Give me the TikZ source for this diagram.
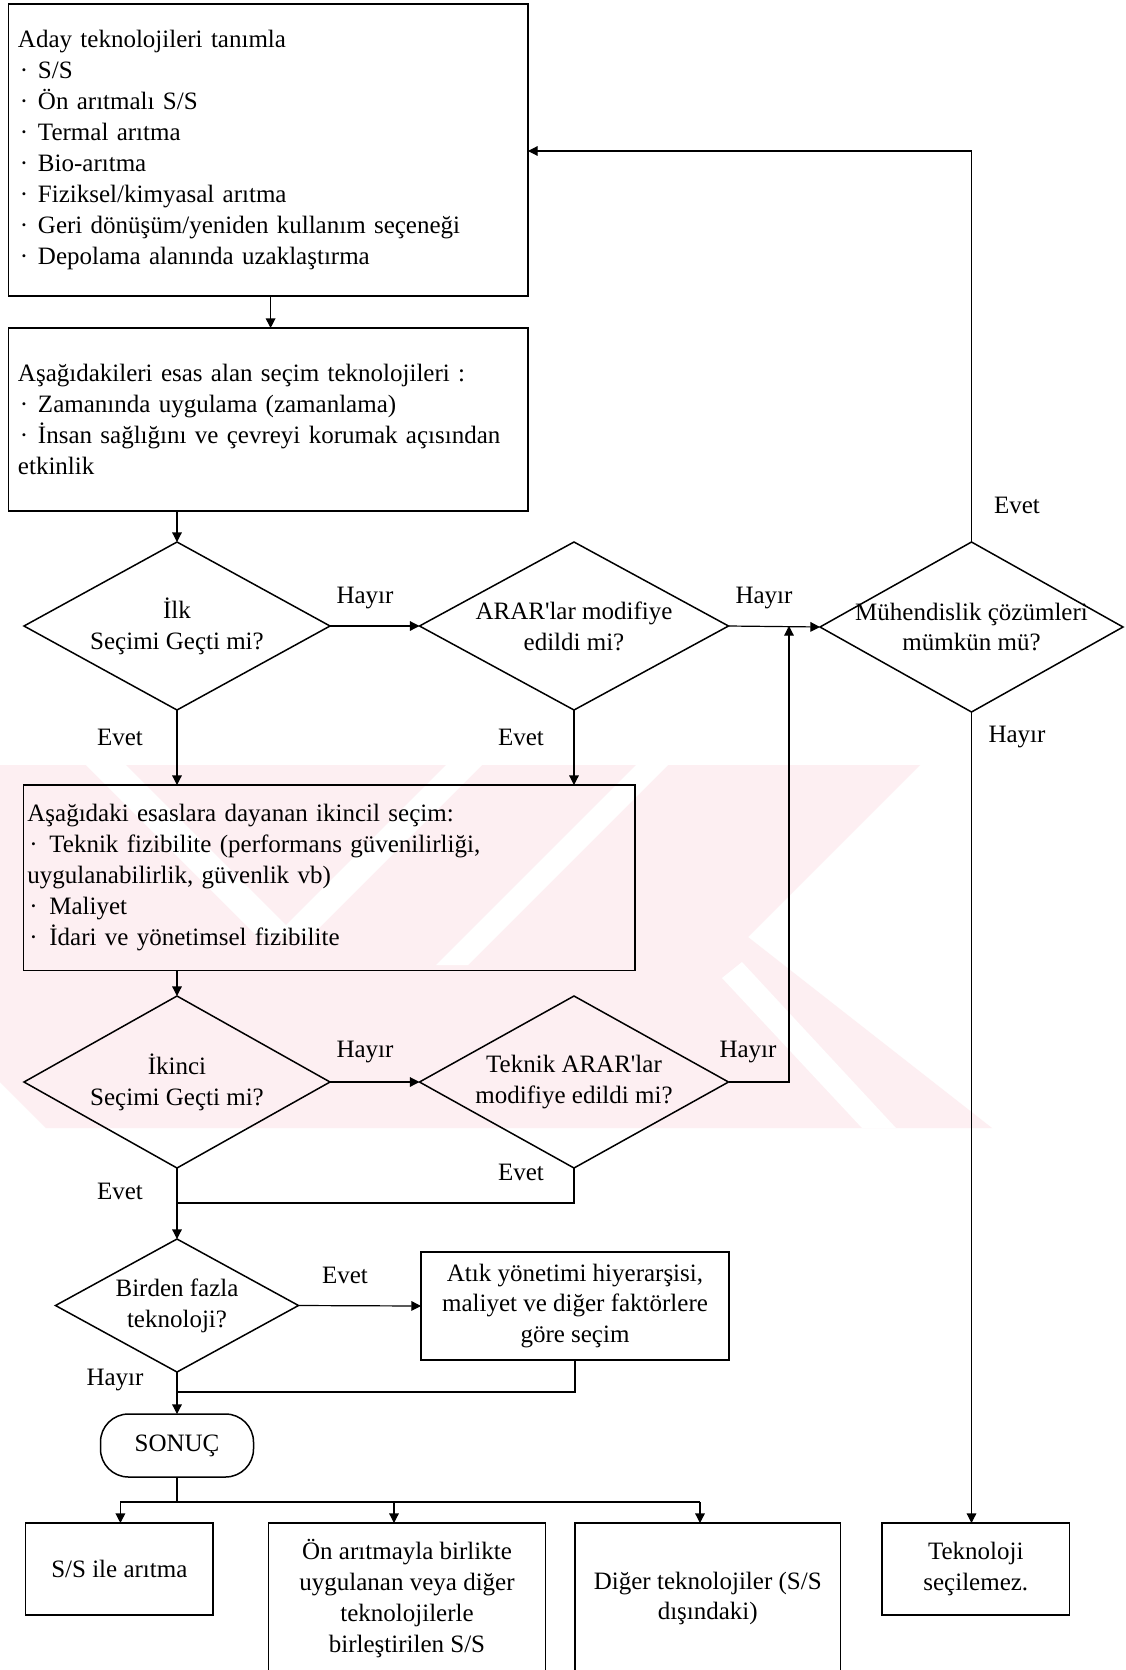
\documentclass[tikz,border=0pt]{standalone}
\usepackage{fontspec}
\newfontfamily\tnr{Liberation Serif}
\usetikzlibrary{arrows.meta,shapes.geometric,calc}
\newcommand\itm[1][10pt]{\makebox[#1][l]{\hspace{1pt}·}}
\definecolor{wmark}{RGB}{253,239,242}

\begin{document}
\begin{tikzpicture}[x=0.5pt,y=-0.5pt,
  every node/.style={font=\tnr\fontsize{12.5}{15.45}\selectfont,inner sep=0pt,outer sep=0pt},
  box/.style={draw,line width=0.85pt,rectangle},
  dia/.style={draw,line width=0.75pt,diamond},
  dtext/.style={align=center},
  conn/.style={line width=0.6pt},
  arr/.style={conn,-{Triangle[length=4.8pt,width=4.8pt]}},
  term/.style={draw,line width=0.75pt,rectangle,rounded corners=14pt}]

\useasboundingbox (0,0) rectangle (1125,1670);
\fill[white] (0,0) rectangle (1125,1670);
\clip (0,0) rectangle (1125,1670);

% faint backdrop pattern
\fill[wmark] (0,765) -- (920,765) -- (748,937) -- (992,1128) -- (46,1128) -- (0,1082) -- cycle;
\fill[white] (86,765) -- (126,765) -- (296,935) -- (256,935) -- cycle;
\fill[white] (446,765) -- (482,765) -- (312,935) -- (276,935) -- cycle;
\fill[white] (636,765) -- (668,765) -- (468,965) -- (436,965) -- cycle;
\fill[white] (722,978) -- (742,962) -- (896,1128) -- (862,1128) -- cycle;

% column and row guides
\coordinate (colT) at (270.6,0);
\coordinate (colR) at (789,0);
\coordinate (rowFb) at (0,151);
\coordinate (rowJa) at (0,1203);
\coordinate (rowJb) at (0,1392);
\coordinate (rowJc) at (0,1502);
\coordinate (colOa) at (120.4,0);
\coordinate (colOb) at (394,0);
\coordinate (colOc) at (700,0);

% boxes
\node[box,minimum width=259.75pt,minimum height=146pt,inner xsep=4.75pt,
      text width=250.25pt,align=left] (cand) at (268.25,150)
 {Aday teknolojileri tanımla\\
  \itm S/S\\
  \itm Ön arıtmalı S/S\\
  \itm Termal arıtma\\
  \itm Bio-arıtma\\
  \itm Fiziksel/kimyasal arıtma\\
  \itm Geri dönüşüm/yeniden kullanım seçeneği\\
  \itm Depolama alanında uzaklaştırma};

\node[box,minimum width=259.75pt,minimum height=91.5pt,inner xsep=4.75pt,
      text width=250.25pt,align=left] (crit) at (268.25,419.5)
 {Aşağıdakileri esas alan seçim teknolojileri :\\
  \itm Zamanında uygulama (zamanlama)\\
  \itm İnsan sağlığını ve çevreyi korumak açısından\\
  etkinlik};

\node[box,minimum width=305.8pt,minimum height=92.75pt,inner xsep=2pt,
      text width=301.8pt,align=left] (sec) at (329.2,877.75)
 {Aşağıdaki esaslara dayanan ikincil seçim:\\
  \itm[11pt]Teknik fizibilite (performans güvenilirliği,\\
  uygulanabilirlik, güvenlik vb)\\
  \itm[11pt]Maliyet\\
  \itm[11pt]İdari ve yönetimsel fizibilite};

% decisions
\node[dia,minimum width=153pt,minimum height=84pt] (d1) at (177,626) {};
\node[dtext] (d1t) at (d1) {İlk\\Seçimi Geçti mi?};
\node[dia,minimum width=154.5pt,minimum height=84pt] (d2) at (574,626) {};
\node[dtext] (d2t) at (d2) {ARAR'lar modifiye\\edildi mi?};
\node[dia,minimum width=151.5pt,minimum height=85pt] (d3) at (971.5,627) {};
\node[dtext] (d3t) at (d3) {Mühendislik çözümleri\\mümkün mü?};
\node[dia,minimum width=153pt,minimum height=86pt] (d4) at (177,1082) {};
\node[dtext] (d4t) at (d4) {İkinci\\Seçimi Geçti mi?};
\node[dia,minimum width=154.5pt,minimum height=86pt] (d5) at (574,1082) {};
\node[dtext] (d5t) at (d5) {Teknik ARAR'lar\\modifiye edildi mi?};
\node[dia,minimum width=121.5pt,minimum height=66.5pt] (d6) at (177,1305.5) {};
\node[dtext] (d6t) at (d6) {Birden fazla\\teknoloji?};

\node[box,minimum width=154pt,minimum height=54pt,align=center] (atik) at (575,1306)
 {Atık yönetimi hiyerarşisi,\\maliyet ve diğer faktörlere\\göre seçim};

\node[term,minimum width=76.5pt,minimum height=31.5pt] (sonuc) at (177,1445.5) {SONUÇ};

% outcomes
\node[box,minimum width=93.7pt,minimum height=46pt,align=center] (outA) at (119.3,1569) {S/S ile arıtma};
\node[box,minimum width=138.5pt,minimum height=75.5pt,align=center] (outB) at (407,1598.5)
 {Ön arıtmayla birlikte\\uygulanan veya diğer\\teknolojilerle\\birleştirilen S/S};
\node[box,minimum width=132.75pt,minimum height=75.5pt,align=center] (outC) at (707.75,1598.5)
 {Diğer teknolojiler (S/S\\dışındaki)};
\node[box,minimum width=93.8pt,minimum height=46pt,align=center] (outD) at (975.8,1569)
 {Teknoloji\\seçilemez.};

% connectors
\draw[arr] (cand.south -| colT) -- (crit.north -| colT);
\draw[arr] (crit.south -| d1.north) -- (d1.north);
\draw[arr] (d1.east) -- (d2.west);
\draw[arr] (d2.east) -- (d3.west);
\draw[arr] (d3.north) -- (d3.north |- rowFb) -- (cand.east |- rowFb);
\draw[arr] (d1.south) -- (sec.north -| d1.south);
\draw[arr] (d2.south) -- (sec.north -| d2.south);
\draw[arr] (sec.south -| d4.north) -- (d4.north);
\draw[arr] (d4.east) -- (d5.west);
\draw[arr] (d5.east) -- (d5.east -| colR) -- (d2.east -| colR);
\draw[arr] (d4.south) -- (d6.north);
\draw[conn] (d5.south) -- (d5.south |- rowJa) -- (d4.south |- rowJa);
\draw[arr] (d6.east) -- (atik.west);
\draw[arr] (d6.south) -- (sonuc.north);
\draw[conn] (atik.south) -- (atik.south |- rowJb) -- (d6.south |- rowJb);
\draw[conn] (sonuc.south) -- (sonuc.south |- rowJc);
\draw[conn] (colOa |- rowJc) -- (colOc |- rowJc);
\draw[arr] (colOa |- rowJc) -- (outA.north -| colOa);
\draw[arr] (colOb |- rowJc) -- (outB.north -| colOb);
\draw[arr] (colOc |- rowJc) -- (outC.north -| colOc);
\draw[arr] (d3.south) -- (outD.north -| d3.south);

% branch labels
\node (h1) at (365,598) {Hayır};
\node (h2) at (764,598) {Hayır};
\node (e3) at (1017,505) {Evet};
\node (h3) at (1017,737) {Hayır};
\node (e1) at (120,737) {Evet};
\node (e2) at (521,737) {Evet};
\node (h4) at (365,1051.5) {Hayır};
\node (h5) at (748,1051.5) {Hayır};
\node (e4) at (120,1191) {Evet};
\node (e5) at (521,1172) {Evet};
\node (e6) at (345,1275) {Evet};
\node (h6) at (115,1379.5) {Hayır};

\end{tikzpicture}
\end{document}
